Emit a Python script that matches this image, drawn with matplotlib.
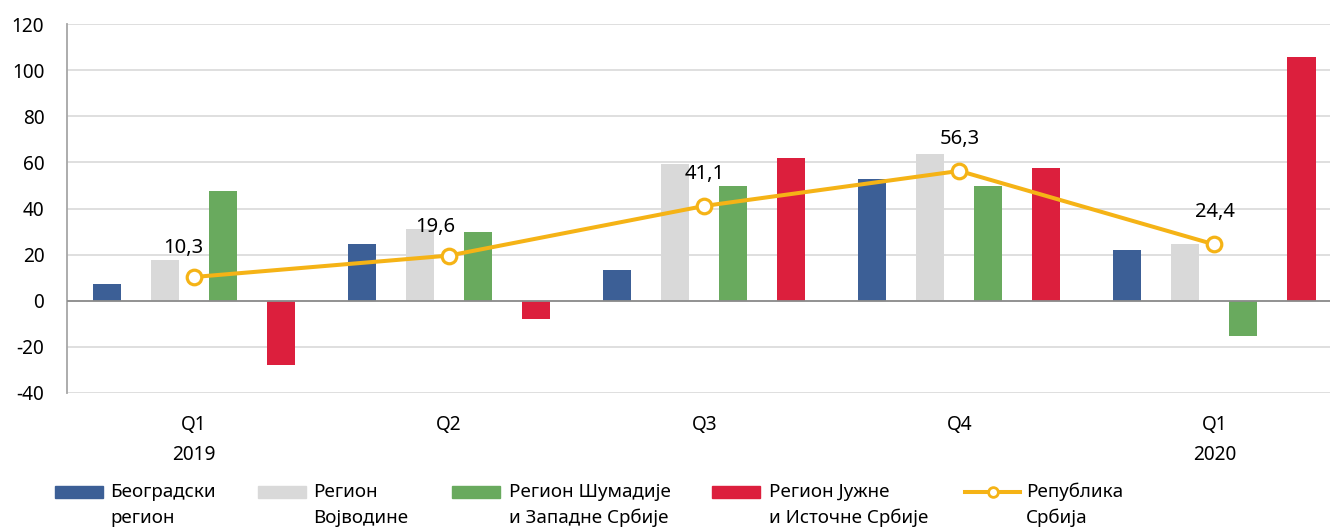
import numpy as np
import matplotlib
matplotlib.use("Agg")
import matplotlib.pyplot as plt
from matplotlib.patches import Rectangle
from matplotlib.lines import Line2D

plt.rcParams['font.family'] = ['Noto Sans', 'DejaVu Sans']

# data
quarters = ['Q1\n2019', 'Q2', 'Q3', 'Q4', 'Q1\n2020']
belgrade = [7.4, 24.8, 13.3, 53.0, 22.0]
vojvodina = [17.8, 30.9, 59.1, 63.5, 24.6]
sumadija = [47.8, 30.0, 49.7, 49.7, -15.1]
south_east = [-27.8, -7.8, 61.7, 57.4, 105.6]
serbia = [10.3, 19.6, 41.1, 56.3, 24.4]

series_names = ['Београдски\nрегион', 'Регион\nВојводине', 'Регион Шумадије\nи Западне Србије',
                'Регион Јужне\nи Источне Србије', 'Република\nСрбија']
colors = ['#3C5F96', '#D9D9D9', '#69AA5E', '#DC1F3D', '#F5B316']

yticks = [-40, -20, 0, 20, 40, 60, 80, 100, 120]

W, H = 1330, 527
fig = plt.figure(figsize=(W / 100, H / 100), dpi=100)
ax = fig.add_axes([66.5 / W, 1 - 393 / H, 1275.5 / W, 369 / H])

x = np.arange(len(quarters))
slot = 0.2275
bw = 0.11
for k, vals in enumerate([belgrade, vojvodina, sumadija, south_east]):
    ax.bar(x + (k - 1.5) * slot, vals, width=bw, color=colors[k], zorder=2)

ax.plot(x, serbia, color=colors[4], lw=2.9, marker='o', ms=10.5,
        mfc='white', mec=colors[4], mew=2.3, zorder=4)

# label offsets (points): the first two are nudged left, as in the original
label_offsets = [(-8, 17), (-10, 17), (0, 19.5), (0, 19.5), (0, 19.5)]
for xi, v, off in zip(x, serbia, label_offsets):
    ax.annotate(f'{v:.1f}'.replace('.', ','), (xi, v), xytext=off,
                textcoords='offset points', ha='center', va='baseline',
                fontsize=14.5, color='black', zorder=5)

ax.set_xlim(-0.5, len(quarters) - 0.5)
ax.set_ylim(-40, 120)
ax.set_yticks(yticks)
ax.set_yticklabels([str(t) for t in yticks], fontsize=13.7)
ax.set_xticks(x)
ax.set_xticklabels(quarters, fontsize=13.7, linespacing=1.68)
ax.tick_params(axis='y', length=0, pad=16, colors='black')
ax.tick_params(axis='x', length=0, pad=15.5, colors='black')

ax.grid(axis='y', color='#D9D9D9', lw=1.2, zorder=0)
ax.axhline(0, color='#8C8C8C', lw=1.3, zorder=3)
for s in ['top', 'right', 'bottom']:
    ax.spines[s].set_visible(False)
ax.spines['left'].set_color('#A6A6A6')
ax.spines['left'].set_linewidth(1.3)

# legend drawn by hand so the key sits beside the first line
handle_x = [55, 258, 452, 712, 965]
text_x = [110, 313, 509, 769, 1026]
row1, row2 = 492, 518
for k in range(5):
    if k < 4:
        fig.add_artist(Rectangle((handle_x[k] / W, 1 - (row1 + 6) / H), 48 / W, 12 / H,
                                 transform=fig.transFigure, color=colors[k]))
    else:
        fig.add_artist(Line2D([handle_x[k] / W, 1020 / W], [1 - row1 / H] * 2,
                              transform=fig.transFigure, color=colors[4], lw=2.9))
        fig.add_artist(Line2D([992.5 / W], [1 - row1 / H], transform=fig.transFigure,
                              marker='o', ms=7, mfc='white', mec=colors[4], mew=2))
    first, second = series_names[k].split('\n')
    fig.text(text_x[k] / W, 1 - row1 / H, first, fontsize=13.5, va='center', ha='left')
    fig.text(text_x[k] / W, 1 - row2 / H, second, fontsize=13.5, va='center', ha='left')

fig.savefig('out.png', dpi=100)
